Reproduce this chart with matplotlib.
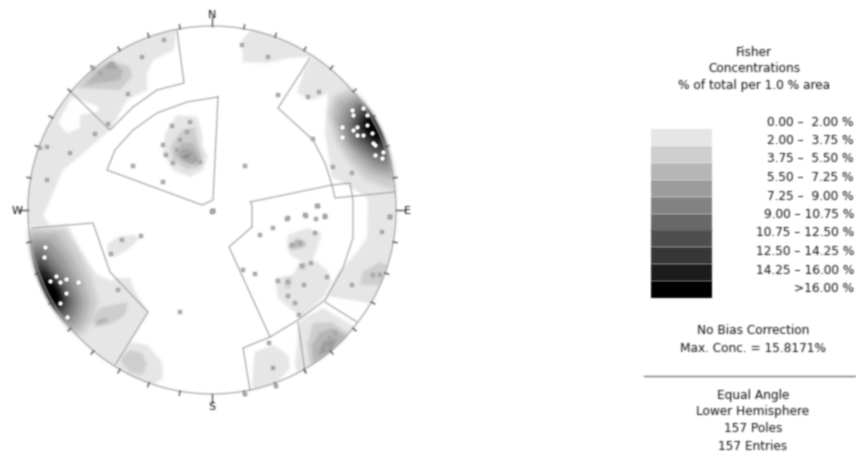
import numpy as np
import matplotlib
matplotlib.use("Agg")
import matplotlib.pyplot as plt
from matplotlib.patches import Circle, Polygon, Rectangle

plt.rcParams['font.family'] = ['DejaVu Sans']

# ---- stereonet frame, read in image pixels
CX, CY, R = 212, 210, 184

# ---- legend
LEVEL_LABELS = ["0.00 \u2013  2.00 %", "2.00 \u2013  3.75 %", "3.75 \u2013  5.50 %", "5.50 \u2013  7.25 %",
                "7.25 \u2013  9.00 %", "9.00 \u2013 10.75 %", "10.75 \u2013 12.50 %", "12.50 \u2013 14.25 %",
                "14.25 \u2013 16.00 %", ">16.00 %"]
LEVEL_GREYS = ["#e6e6e6", "#cecece", "#b6b6b6", "#9c9c9c", "#828282",
               "#686868", "#4e4e4e", "#363636", "#1c1c1c", "#000000"]
TITLE_LINES = ["Fisher", "Concentrations", "% of total per 1.0 % area"]
INFO_LINES = ["No Bias Correction", "Max. Conc. = 15.8171%"]
PROJECTION_LINES = ["Equal Angle", "Lower Hemisphere", "157 Poles", "157 Entries"]
COMPASS = ["N", "E", "S", "W"]

# ---- contour regions, (image px)
L1_NW = [(20,226),(20,180),(40,130),(70,85),(110,45),(150,22),(178,18),(176,32),(174,50),(153,60),(147,73),
         (147,90),(127,100),(110,130),(87,150),(63,170),(50,200),(43,215),(50,226)]
L1_N = [(242,40),(253,28),(273,28),(313,48),(313,57),(290,58),(267,63),(243,62)]
L1_E = [(313,57),(305,68),(297,93),(313,100),(328,93),(325,133),(332,177),(350,187),(367,197),(368,205),
        (367,238),(357,252),(337,275),(325,300),(373,305),(405,312),(425,210),(385,100),(330,40)]
L1_SE = [(300,320),(323,308),(357,328),(375,345),(310,385),(297,372),(295,365)]
L1_SSE = [(253,368),(255,352),(273,345),(288,355),(290,368),(277,382),(252,395)]
L1_SW = [(25,228),(68,226),(80,250),(97,275),(110,280),(130,285),(148,312),(115,365),(85,375),(40,330)]
L1_SW2 = [(113,278),(130,278),(137,298),(128,302)]
L1_W = [(107,245),(117,237),(133,235),(140,238),(130,248),(115,257),(108,255)]
L1_S = [(115,362),(130,342),(147,345),(162,362),(163,378),(153,385),(140,380),(118,373)]
L1_C = [(177,115),(197,117),(202,133),(203,147),(208,157),(203,170),(190,177),(173,170),(163,153),(165,133)]
L1_M1 = [(288,235),(307,228),(322,233),(317,248),(313,260),(303,262),(290,255),(287,245)]
L1_M2 = [(275,278),(293,275),(300,262),(317,262),(327,270),(332,282),(323,298),(302,317),(292,310),(278,298)]
L1_REGIONS = [L1_NW, L1_N, L1_E, L1_SE, L1_SSE, L1_SW, L1_SW2, L1_W, L1_S, L1_C, L1_M1, L1_M2]

WHITE_HOLE_NW = [(72,97),(100,107),(97,112),(80,115),(80,128),(67,133),(58,123)]
WHITE_HOLE_E = [(327,296),(373,304),(367,313),(357,320),(328,303)]
WHITE_HOLES = [WHITE_HOLE_NW, WHITE_HOLE_E]

L2_REGIONS = [[(111,60),(130,67),(132,77),(120,90),(77,88),(93,70)],
              [(360,285),(363,272),(380,262),(387,265),(380,285)],
              [(313,323),(332,322),(350,335),(330,352),(310,365),(307,345)],
              [(100,308),(128,302),(125,315),(113,323),(95,327),(93,318)],
              [(122,357),(130,350),(142,353),(147,365),(142,375),(130,372),(122,363)],
              [(182,130),(195,127),(198,143),(203,157),(200,167),(187,170),(173,160),(170,147)],
              [(288,247),(297,238),(307,242),(305,247),(292,250)],
              [(285,278),(292,278),(290,288),(285,288)],
              [(300,263),(307,263),(305,270),(300,270)]]
L3_REGIONS = [[(110,62),(123,70),(120,80),(85,85),(97,72)],
              [(320,332),(333,328),(347,337),(323,357),(313,362),(312,345)],
              [(182,143),(193,143),(200,157),(197,165),(185,163),(175,155)],
              [(290,247),(297,240),(305,243),(303,246),(293,248)],
              [(97,320),(107,317),(108,322),(97,325)]]
L4_REGIONS = [[(112,62),(118,68),(105,68)],
              [(323,342),(337,338),(332,350),(318,355)],
              [(182,150),(190,150),(198,160),(192,163),(182,158)]]
L5_REGIONS = [[(182,152),(188,153),(188,157),(182,157)]]

# hot-spot isolines against the rim, one per level from 2.00 % up (read in 3x crops)
HOT_NE_ORIGIN = (210, 0)
HOT_NE = [[(420,265),(370,290),(355,340),(375,420),(420,490),(470,540),(550,570)],
          [(430,285),(385,300),(370,350),(395,425),(435,480),(480,520),(548,540)],
          [(437,295),(400,320),(385,365),(410,425),(450,470),(490,505),(545,520)],
          [(445,305),(415,335),(405,375),(425,430),(465,465),(500,490),(540,495)],
          [(450,315),(430,345),(420,380),(440,425),(475,455),(510,475),(535,475)],
          [(460,325),(440,350),(435,385),(455,420),(490,450),(515,460),(530,455)],
          [(465,335),(450,355),(445,385),(465,415),(495,440),(520,440)],
          [(470,345),(457,365),(458,390),(480,415),(505,430),(520,425)],
          [(480,350),(465,370),(470,390),(490,410),(512,420),(505,395)]]
HOT_SW_ORIGIN = (0, 205)
HOT_SW = [[(90,72),(195,72),(235,135),(272,215),(295,290),(280,345),(250,388),(215,392)],
          [(90,85),(170,85),(215,150),(250,220),(270,290),(260,340),(235,375),(205,380)],
          [(90,105),(150,105),(195,160),(232,235),(250,290),(240,335),(222,360),(200,370)],
          [(95,125),(135,125),(175,175),(215,240),(232,290),(225,325),(205,350),(190,355)],
          [(100,145),(125,145),(160,185),(200,245),(218,290),(208,320),(192,340),(180,345)],
          [(105,165),(125,165),(150,195),(190,250),(205,290),(195,315),(180,330),(170,335)],
          [(110,180),(130,185),(155,210),(180,255),(192,290),(180,315),(165,320)],
          [(115,195),(135,200),(165,235),(185,275),(185,295),(170,310),(155,305)],
          [(125,220),(150,230),(175,260),(180,285),(165,305),(150,295)]]

# ---- structural domain outlines (image px)
DOMAINS = [[(218,97),(187,102),(157,113),(133,130),(115,150),(107,170),(202,205),(213,200),(218,97)],
           [(177,30),(184,83),(157,90),(133,107),(110,130),(72,93)],
           [(310,58),(278,108),(313,140),(325,163),(332,185),(335,198),(395,192)],
           [(252,227),(252,205),(250,202),(332,185),(350,183),(353,200),(353,238),(343,268),(325,300),
            (298,320),(270,337),(229,247),(252,227)],
           [(270,337),(243,348),(250,390)],
           [(298,322),(305,372)],
           [(325,302),(357,322)],
           [(32,228),(93,223),(110,272),(148,312),(115,365)]]

# ---- poles (image px)
POLES_NW_X = [164,142,128,108,95,70,47,47,133,163,213,172,190,163,166,180,187,183,192,200,193,177,173,187,112,93,100,40]
POLES_NW_Y = [40,57,94,124,134,153,180,147,166,182,211,126,122,145,155,140,152,154,160,162,157,150,163,132,65,68,73,148]
POLES_NE_X = [242,268,278,308,319,313,333,352,245,213,318,305,325,288,390]
POLES_NE_Y = [45,57,95,97,92,139,167,173,166,211,206,215,217,218,217]
POLES_SW_X = [122,141,111,118,180,212]
POLES_SW_Y = [240,236,254,290,312,212]
POLES_SE_X = [317,306,325,287,316,260,273,315,300,292,302,311,255,243,278,288,304,288,295,327,299,269,273,276,245,352,390,382,373,380,330,327,335]
POLES_SE_Y = [206,216,216,219,219,235,228,233,243,245,266,263,274,270,281,282,285,296,303,277,315,343,368,386,394,285,217,232,275,275,338,348,333]
POLES_HOT_X = [352,353,363,367,357,353,357,363,342,342,372,373,375,375,382,383,367,45,44,56,50,60,66,66,60,67,78]
POLES_HOT_Y = [110,115,108,125,127,130,135,135,127,137,133,143,145,155,158,152,115,247,257,276,281,282,279,293,303,317,282]

# ---- blur of the soft, scanned reference
def soft(sigma):
    radius = int(np.ceil(3 * sigma))
    kernel = np.exp(-0.5 * (np.arange(-radius, radius + 1) / sigma) ** 2)
    kernel /= kernel.sum()
    def flt(img, dpi):
        pad = radius + 1
        a = np.pad(img[:, :, 3], pad)
        a = np.apply_along_axis(lambda m: np.convolve(m, kernel, mode='same'), 0, a)
        a = np.apply_along_axis(lambda m: np.convolve(m, kernel, mode='same'), 1, a)
        out = np.zeros(a.shape + (4,), dtype=float)
        k = np.unravel_index(np.argmax(img[:, :, 3]), img.shape[:2])
        out[:, :, :3] = img[k[0], k[1], :3]
        out[:, :, 3] = np.clip(a, 0, 1)
        return out, -pad, -pad
    return flt

BLUR = soft(1.4)
HOT_BLUR = soft(2.4)
TEXT_BLUR = soft(0.85)

fig = plt.figure(figsize=(8.56, 4.53), dpi=100, facecolor="white")
ax = fig.add_axes([0, 0, 1, 1])
ax.set_xlim(0, 856)
ax.set_ylim(453, 0)
ax.axis("off")

clip = Circle((CX, CY), R, transform=ax.transData, fill=False, lw=0)
ax.add_patch(clip)

def fill(points, colour, z, blur=BLUR):
    p = Polygon(points, closed=True, facecolor=colour, edgecolor="none", zorder=z)
    ax.add_patch(p)
    p.set_clip_path(clip)
    p.set_agg_filter(blur)

def from_crop(points, origin):
    return [(origin[0] + x / 3, origin[1] + y / 3) for x, y in points]

def closed_on_rim(points):
    ang = [np.arctan2(y - CY, x - CX) for x, y in points]
    a0, a1 = ang[0], ang[-1]
    if abs(a0 - a1) > np.pi:
        a1 += 2 * np.pi * np.sign(a0 - a1)
    far = [(CX + 1.3 * R * np.cos(t), CY + 1.3 * R * np.sin(t)) for t in (a1, (a0 + a1) / 2, a0)]
    return list(points) + far

for region in L1_REGIONS:
    fill(region, LEVEL_GREYS[0], 1)
for region in WHITE_HOLES:
    fill(region, "white", 2)
for lvl, regions in enumerate([L2_REGIONS, L3_REGIONS, L4_REGIONS, L5_REGIONS], start=1):
    for region in regions:
        fill(region, LEVEL_GREYS[lvl], 3 + lvl)
for lvl, (a, b) in enumerate(zip(HOT_NE, HOT_SW), start=1):
    fill(closed_on_rim(from_crop(a, HOT_NE_ORIGIN)), LEVEL_GREYS[lvl], 3 + lvl, HOT_BLUR)
    fill(closed_on_rim(from_crop(b, HOT_SW_ORIGIN)), LEVEL_GREYS[lvl], 3 + lvl, HOT_BLUR)

for d in DOMAINS:
    xs, ys = zip(*d)
    ax.plot(xs, ys, color="#9e9e9e", lw=0.8, zorder=20, agg_filter=TEXT_BLUR)

ax.add_patch(Circle((CX, CY), R, fill=False, ec="#9e9e9e", lw=0.8, zorder=21, agg_filter=TEXT_BLUR))
for deg in range(0, 360, 10):
    t = np.deg2rad(deg)
    r1 = R + (9 if deg % 90 == 0 else 4)
    ax.plot([CX + R * np.sin(t), CX + r1 * np.sin(t)], [CY - R * np.cos(t), CY - r1 * np.cos(t)],
            color="#555555", lw=1.0, zorder=21, agg_filter=TEXT_BLUR)

for (xs, ys) in [(POLES_NW_X, POLES_NW_Y), (POLES_NE_X, POLES_NE_Y), (POLES_SW_X, POLES_SW_Y), (POLES_SE_X, POLES_SE_Y)]:
    ax.plot(xs, ys, ls="none", marker="s", ms=3.0, mfc="#a8a8a8", mec="#a8a8a8", mew=0.3, zorder=22, agg_filter=TEXT_BLUR)
ax.plot(POLES_HOT_X, POLES_HOT_Y, ls="none", marker="o", ms=2.8, mfc="#ffffff", mec="#ffffff", mew=0.3, zorder=22,
        agg_filter=soft(0.7))

def txt(x, y, s, size=8.7, ha="center", colour="#111111"):
    ax.text(x, y, s, fontsize=size, ha=ha, va="center", color=colour, agg_filter=TEXT_BLUR, zorder=30)

for (lx, ly), s in zip([(CX, 15), (407, 211), (CX, 407), (17, 211)], COMPASS):
    txt(lx, ly, s, size=8.0)

for y, s in zip([52, 68, 85], TITLE_LINES):
    txt(754, y, s)

BAR_TOP, ROW_H = 129, 16.9
for i, g in enumerate(LEVEL_GREYS):
    r = Rectangle((651, BAR_TOP + i * ROW_H), 61, ROW_H + 0.2, facecolor=g, edgecolor="none", zorder=5)
    ax.add_patch(r)
    r.set_agg_filter(TEXT_BLUR)
    txt(854, 122 + i * 18.5, LEVEL_LABELS[i], ha="right")

for y, s in zip([331, 348], INFO_LINES):
    txt(753, y, s)
ax.plot([644, 856], [376, 376], color="#777777", lw=1.0, agg_filter=TEXT_BLUR)
for y, s in zip([395, 412, 428, 446], PROJECTION_LINES):
    txt(753, y, s)

fig.savefig("out.png", dpi=100, facecolor="white")
